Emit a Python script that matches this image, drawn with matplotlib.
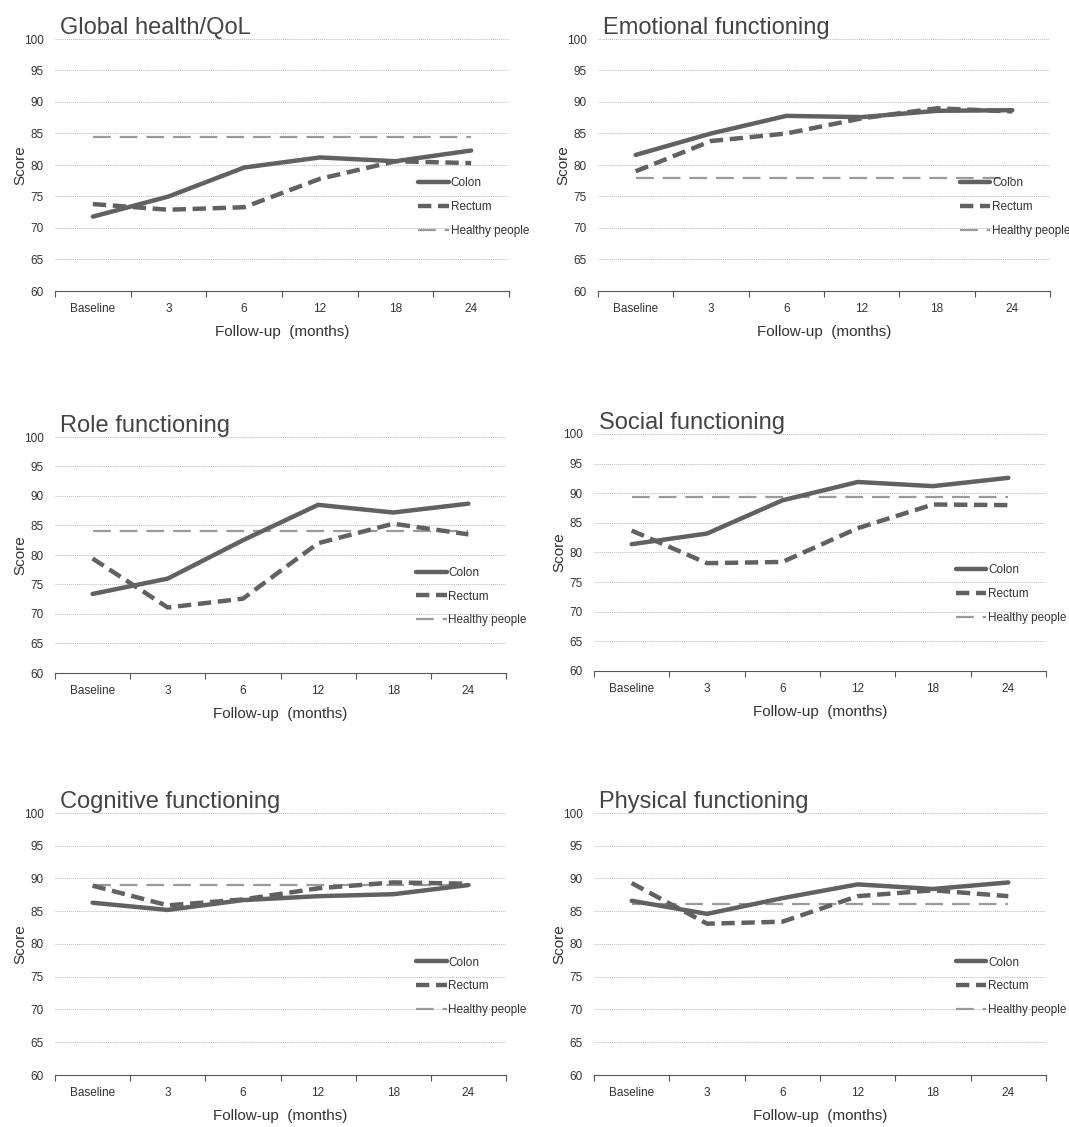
import numpy as np
import matplotlib.pyplot as plt
from matplotlib import font_manager

names = {f.name for f in font_manager.fontManager.ttflist}
fam = 'Liberation Sans Narrow' if 'Liberation Sans Narrow' in names else 'Liberation Sans'
plt.rcParams['font.family'] = [fam, 'DejaVu Sans']

categories = ['Baseline', '3', '6', '12', '18', '24']

titles = ['Global health/QoL', 'Emotional functioning', 'Role functioning',
          'Social functioning', 'Cognitive functioning', 'Physical functioning']

colon = [
    [71.8, 75.0, 79.6, 81.2, 80.6, 82.3],
    [81.6, 85.0, 87.8, 87.6, 88.6, 88.7],
    [73.4, 76.0, 82.5, 88.5, 87.2, 88.7],
    [81.4, 83.2, 88.8, 91.9, 91.2, 92.6],
    [86.3, 85.2, 86.7, 87.3, 87.6, 89.0],
    [86.6, 84.6, 87.0, 89.1, 88.4, 89.4],
]
rectum = [
    [73.8, 72.9, 73.3, 77.8, 80.6, 80.3],
    [79.0, 83.8, 85.0, 87.4, 89.0, 88.5],
    [79.4, 71.1, 72.6, 82.0, 85.3, 83.5],
    [83.7, 78.2, 78.4, 84.1, 88.1, 88.0],
    [88.9, 85.9, 86.8, 88.5, 89.4, 89.2],
    [89.3, 83.1, 83.4, 87.3, 88.2, 87.3],
]
healthy = [84.4, 78.0, 84.1, 89.3, 89.0, 86.1]

# axes boxes in pixels: left, right, top, bottom
boxes = [
    (55, 509, 39, 291), (598, 1050, 39, 291),
    (55, 506, 437, 673), (594, 1046, 434, 671),
    (55, 506, 813, 1075), (594, 1046, 813, 1075),
]

W, H = 1069, 1127
fig = plt.figure(figsize=(W / 100, H / 100), dpi=100)

dark = '#616161'
light = '#9a9a9a'
x = np.arange(len(categories)) + 0.5

for i in range(6):
    l, r, t, b = boxes[i]
    ax = fig.add_axes([l / W, 1 - b / H, (r - l) / W, (b - t) / H])
    ax.set_xlim(0, 6)
    ax.set_ylim(60, 100)
    ax.set_yticks(range(60, 101, 5))
    ax.yaxis.grid(True, linestyle=(0, (1, 1)), color='#bbbbbb', linewidth=0.7)
    ax.set_axisbelow(True)
    for s in ['top', 'right', 'left']:
        ax.spines[s].set_visible(False)
    ax.spines['bottom'].set_color('#555555')
    ax.spines['bottom'].set_linewidth(0.8)
    ax.set_xticks(np.arange(0, 7))
    ax.set_xticklabels([])
    ax.set_xticks(x, minor=True)
    ax.set_xticklabels(categories, minor=True)
    ax.tick_params(axis='x', which='major', length=4, color='#555555', direction='out')
    ax.tick_params(axis='x', which='minor', length=0, pad=9, labelsize=8.5, labelcolor='#333333')
    ax.tick_params(axis='y', length=0, labelsize=8.5, labelcolor='#333333', pad=8)

    ax.plot([x[0], x[-1]], [healthy[i], healthy[i]], color=light, lw=1.6,
            dashes=(8, 4), label='Healthy people', zorder=2)
    ax.plot(x, colon[i], color=dark, lw=3.2, solid_capstyle='round', label='Colon', zorder=3)
    ax.plot(x, rectum[i], color=dark, lw=3.2, dashes=(3, 1.5), label='Rectum', zorder=3)

    handles, labels = ax.get_legend_handles_labels()
    order = [1, 2, 0]
    ax.legend([handles[k] for k in order], [labels[k] for k in order],
              loc='upper left', bbox_to_anchor=(0.79, 0.47), frameon=False,
              fontsize=8.5, handlelength=2.6, handletextpad=0.15,
              labelspacing=1.0, borderaxespad=0, labelcolor='#333333')

    ax.set_title(titles[i], loc='left', fontsize=17, color='#444444', pad=3, x=0.01)
    ax.set_ylabel('Score', fontsize=11, color='#333333')
    ax.yaxis.set_label_coords(-28 / (r - l), 0.5)
    ax.set_xlabel('Follow-up  (months)', fontsize=11, color='#333333', labelpad=7)

fig.savefig('out.png', dpi=100, facecolor='white')
